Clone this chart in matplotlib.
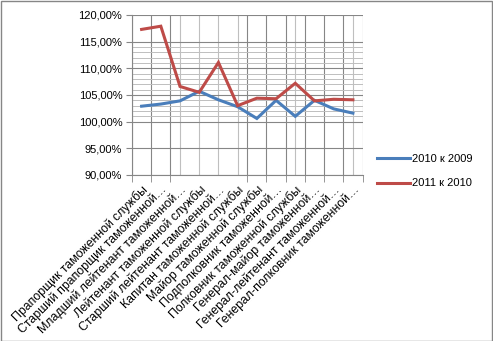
import matplotlib
matplotlib.use("Agg")
import matplotlib.pyplot as plt
from matplotlib.patches import Rectangle
from matplotlib.ticker import FuncFormatter, MultipleLocator

plt.rcParams["font.family"] = ["Liberation Sans", "DejaVu Sans"]

# --- data ------------------------------------------------------------------
categories = [
    "Прапорщик таможенной службы",
    "Старший прапорщик таможенной…",
    "Младший лейтенант таможенной…",
    "Лейтенант таможенной службы",
    "Старший лейтенант таможенной…",
    "Капитан таможенной службы",
    "Майор таможенной службы",
    "Подполковник таможенной…",
    "Полковник таможенной службы",
    "Генерал-майор таможенной…",
    "Генерал-лейтенант таможенной…",
    "Генерал-полковник таможенной…",
]
growth_2010 = [102.9, 103.3, 103.9, 105.7, 104.1, 102.8, 100.6, 104.0, 101.0, 104.0, 102.4, 101.6]
growth_2011 = [117.3, 117.9, 106.6, 105.5, 111.1, 103.0, 104.4, 104.3, 107.2, 103.9, 104.2, 104.1]
series_names = ["2010 к 2009", "2011 к 2010"]

BLUE = "#4a7ebb"
RED = "#be4b48"
DARK_GRID = "#868686"
LIGHT_GRID = "#bfbfbf"

fig = plt.figure(figsize=(4.93, 3.41), dpi=100)
ax = fig.add_axes([132 / 493, 1 - 175 / 341, 230.5 / 493, 160 / 341])

n = len(categories)
x = list(range(n))

# vertical grid: category boundaries (dark) and a few light lines at centres,
# as they show up in the downscaled Excel picture
skip_bounds = {3, 4, 5}
for k in range(n + 1):
    if k not in skip_bounds:
        ax.axvline(k - 0.5, color=DARK_GRID, lw=0.8, zorder=1)
for k in (2, 3, 4, 5, 8, 11):
    ax.axvline(k, color=LIGHT_GRID, lw=0.8, zorder=1)

# horizontal grid
for v in range(100, 115):
    if v % 5:
        ax.axhline(v, color=LIGHT_GRID, lw=0.7, zorder=1)
for v in range(90, 121, 5):
    ax.axhline(v, color=DARK_GRID, lw=0.8, zorder=1)

ax.plot(x, growth_2010, color=BLUE, lw=2.2, label=series_names[0], zorder=3,
        solid_joinstyle="miter")
ax.plot(x, growth_2011, color=RED, lw=2.2, label=series_names[1], zorder=3,
        solid_joinstyle="miter")

ax.set_xlim(-0.5, n - 0.5)
ax.set_ylim(90, 120)
ax.yaxis.set_major_locator(MultipleLocator(5))
ax.yaxis.set_major_formatter(FuncFormatter(lambda v, _: f"{v:.2f}%".replace(".", ",")))
ax.tick_params(axis="y", length=4, color=DARK_GRID, labelsize=8, pad=3)

ax.set_xticks(x)
ax.set_xticklabels(categories, rotation=45, ha="right", va="top",
                   rotation_mode="anchor", fontsize=8.8)
ax.tick_params(axis="x", length=0, pad=6)
ax.set_xticks([k - 0.5 for k in range(n + 1) if k not in skip_bounds], minor=True)
ax.tick_params(axis="x", which="minor", length=5, color=DARK_GRID)

for side in ("top", "right"):
    ax.spines[side].set_visible(False)
for side in ("left", "bottom"):
    ax.spines[side].set_color(DARK_GRID)
    ax.spines[side].set_linewidth(0.8)

fig.legend(loc="upper left", bbox_to_anchor=(367 / 493, 1 - 144 / 341),
           frameon=False, fontsize=8, handlelength=3.0, handletextpad=0.15,
           labelspacing=1.3)

fig.add_artist(Rectangle((0.5 / 493, 0.5 / 341), 491.5 / 493, 339.5 / 341,
                         transform=fig.transFigure, fill=False,
                         edgecolor=DARK_GRID, lw=1.0))

fig.savefig("out.png", dpi=100)
